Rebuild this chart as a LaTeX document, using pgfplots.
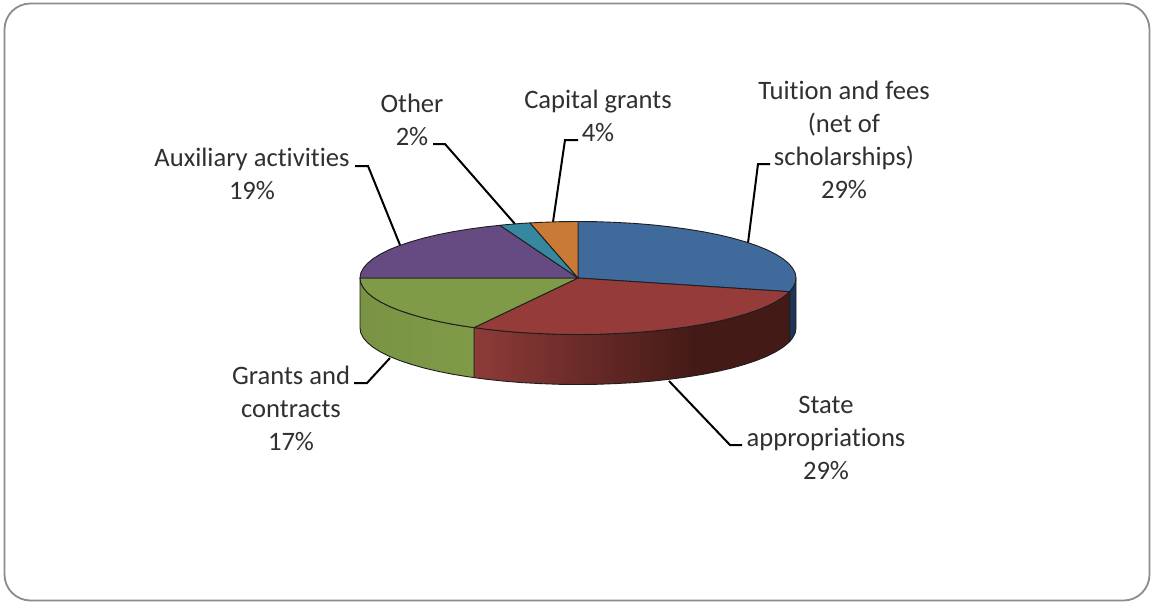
\documentclass[border=0pt]{standalone}
\usepackage{pgfplots}
\pgfplotsset{compat=1.18}
\usepackage{fontspec}
\setmainfont[Ligatures=NoCommon]{Carlito}
\definecolor{blueTop}{HTML}{3F6A9B}
\definecolor{redTop}{HTML}{953C3A}
\definecolor{greenTop}{HTML}{7F9B47}
\definecolor{purpleTop}{HTML}{664B83}
\definecolor{tealTop}{HTML}{35889F}
\definecolor{orangeTop}{HTML}{C87A36}
\definecolor{blueSide}{HTML}{1D3657}
\definecolor{labelInk}{HTML}{303030}
\definecolor{edgeInk}{HTML}{1E1E1E}
\definecolor{panelEdge}{HTML}{8C8C8C}
\definecolor{redWallLight}{HTML}{8E3B39}
\definecolor{redWallDark}{HTML}{441A16}
% side of the red slice: darkens to the right, then stays flat
\pgfdeclarehorizontalshading{redside}{100bp}{
  color(0bp)=(redWallLight);
  color(25bp)=(redWallLight);
  color(60bp)=(redWallDark);
  color(100bp)=(redWallDark)}
\tikzset{
  slice/.style={draw=edgeInk, line width=0.9pt, line join=round},
  leader/.style={draw=black, line width=2pt, line join=miter},
  lab/.style={align=center, text=labelInk, font=\fontsize{26.6}{33}\selectfont, inner sep=0pt},
}
\begin{document}
\begin{tikzpicture}[x=1pt,y=1pt]
\useasboundingbox (0,0) rectangle (1151,602);
\begin{axis}[
  at={(0,0)}, anchor=south west,
  scale only axis, width=1151pt, height=602pt,
  xmin=0, xmax=1151, ymin=0, ymax=602, y dir=reverse,
  hide axis, clip=false,
]
% card behind the chart
\draw[panelEdge, line width=1.8pt, rounded corners=26pt, fill=white]
  (axis cs:4.5,3.5) rectangle (axis cs:1149.5,600.5);

% leader lines, drawn first so that the pie covers their ends
\addplot[leader] coordinates {(770,164) (758,164) (748,243)};
\addplot[leader] coordinates {(578,140) (565,140) (553,222)};
\addplot[leader] coordinates {(433,144) (445,144) (515,224)};
\addplot[leader] coordinates {(355,166) (368,166) (400,245)};
\addplot[leader] coordinates {(354,383) (367,383) (390,358)};
\addplot[leader] coordinates {(669,381) (730,445) (742,445)};

% side walls of the near half
\addplot[slice, fill=blueSide] coordinates {
  (796.0,278.0) (795.2,282.9) (792.7,287.8) (789.6,291.7)
  (789.6,341.7) (792.7,337.8) (795.2,332.9) (796.0,328.0)} --cycle;
\addplot[slice, shading=redside] coordinates {
  (789.6,291.7) (788.6,292.6) (782.9,297.3) (775.6,301.9) (766.8,306.3)
  (756.6,310.4) (745.0,314.3) (732.1,318.0) (718.1,321.3) (703.0,324.3)
  (687.0,326.9) (670.1,329.2) (652.6,331.1) (634.4,332.6) (615.8,333.6)
  (597.0,334.3) (578.0,334.5) (559.0,334.3) (540.2,333.6) (521.6,332.6)
  (503.4,331.1) (485.9,329.2) (474.0,327.6)
  (474.0,377.6) (485.9,379.2) (503.4,381.1) (521.6,382.6) (540.2,383.6)
  (559.0,384.3) (578.0,384.5) (597.0,384.3) (615.8,383.6) (634.4,382.6)
  (652.6,381.1) (670.1,379.2) (687.0,376.9) (703.0,374.3) (718.1,371.3)
  (732.1,368.0) (745.0,364.3) (756.6,360.4) (766.8,356.3) (775.6,351.9)
  (782.9,347.3) (788.6,342.6) (789.6,341.7)} --cycle;
\addplot[slice, left color=greenTop!95!black, right color=greenTop] coordinates {
  (474.0,327.6) (469.0,326.9) (453.0,324.3) (437.9,321.3) (423.9,318.0)
  (411.0,314.3) (399.4,310.4) (389.2,306.3) (380.4,301.9) (373.1,297.3)
  (367.4,292.6) (363.3,287.8) (360.8,282.9) (360.0,278.0)
  (360.0,328.0) (360.8,332.9) (363.3,337.8) (367.4,342.6) (373.1,347.3)
  (380.4,351.9) (389.2,356.3) (399.4,360.4) (411.0,364.3) (423.9,368.0)
  (437.9,371.3) (453.0,374.3) (469.0,376.9) (474.0,377.6)} --cycle;

% top face, one polygon per slice
% Tuition and fees, 29%
\addplot[slice, fill=blueTop] coordinates {
  (578.0,278.0) (578.0,221.5) (597.0,221.7) (615.8,222.4) (634.4,223.4)
  (652.6,224.9) (670.1,226.8) (687.0,229.1) (703.0,231.7) (718.1,234.7)
  (732.1,238.0) (745.0,241.7) (756.6,245.6) (766.8,249.7) (775.6,254.1)
  (782.9,258.7) (788.6,263.4) (792.7,268.2) (795.2,273.1) (796.0,278.0)
  (795.2,282.9) (792.7,287.8) (789.6,291.7)} --cycle;
% State appropriations, 29%
\addplot[slice, fill=redTop] coordinates {
  (578.0,278.0) (789.6,291.7) (788.6,292.6) (782.9,297.3) (775.6,301.9)
  (766.8,306.3) (756.6,310.4) (745.0,314.3) (732.1,318.0) (718.1,321.3)
  (703.0,324.3) (687.0,326.9) (670.1,329.2) (652.6,331.1) (634.4,332.6)
  (615.8,333.6) (597.0,334.3) (578.0,334.5) (559.0,334.3) (540.2,333.6)
  (521.6,332.6) (503.4,331.1) (485.9,329.2) (474.0,327.6)} --cycle;
% Grants and contracts, 17%
\addplot[slice, fill=greenTop] coordinates {
  (578.0,278.0) (474.0,327.6) (469.0,326.9) (453.0,324.3) (437.9,321.3)
  (423.9,318.0) (411.0,314.3) (399.4,310.4) (389.2,306.3) (380.4,301.9)
  (373.1,297.3) (367.4,292.6) (363.3,287.8) (360.8,282.9) (360.0,278.0)} --cycle;
% Auxiliary activities, 19%
\addplot[slice, fill=purpleTop] coordinates {
  (578.0,278.0) (360.0,278.0) (360.8,273.1) (363.3,268.2) (367.4,263.4)
  (373.1,258.7) (380.4,254.1) (389.2,249.7) (399.4,245.6) (411.0,241.7)
  (423.9,238.0) (437.9,234.7) (453.0,231.7) (469.0,229.1) (485.9,226.8)
  (499.9,225.3)} --cycle;
% Other, 2%
\addplot[slice, fill=tealTop] coordinates {
  (578.0,278.0) (499.9,225.3) (503.4,224.9) (521.6,223.4) (530.0,222.9)} --cycle;
% Capital grants, 4%
\addplot[slice, fill=orangeTop] coordinates {
  (578.0,278.0) (530.0,222.9) (540.2,222.4) (559.0,221.7) (578.0,221.5)} --cycle;

% slice labels
\node[lab] at (axis cs:844,140) {Tuition and fees\\(net of\\scholarships)\\29\%};
\node[lab] at (axis cs:598,116) {Capital grants\\4\%};
\node[lab] at (axis cs:412,120) {Other\\2\%};
\node[lab] at (axis cs:252,174) {Auxiliary activities\\19\%};
\node[lab] at (axis cs:291,408) {Grants and\\contracts\\17\%};
\node[lab] at (axis cs:826,438) {State\\appropriations\\29\%};
\end{axis}
\end{tikzpicture}
\end{document}
